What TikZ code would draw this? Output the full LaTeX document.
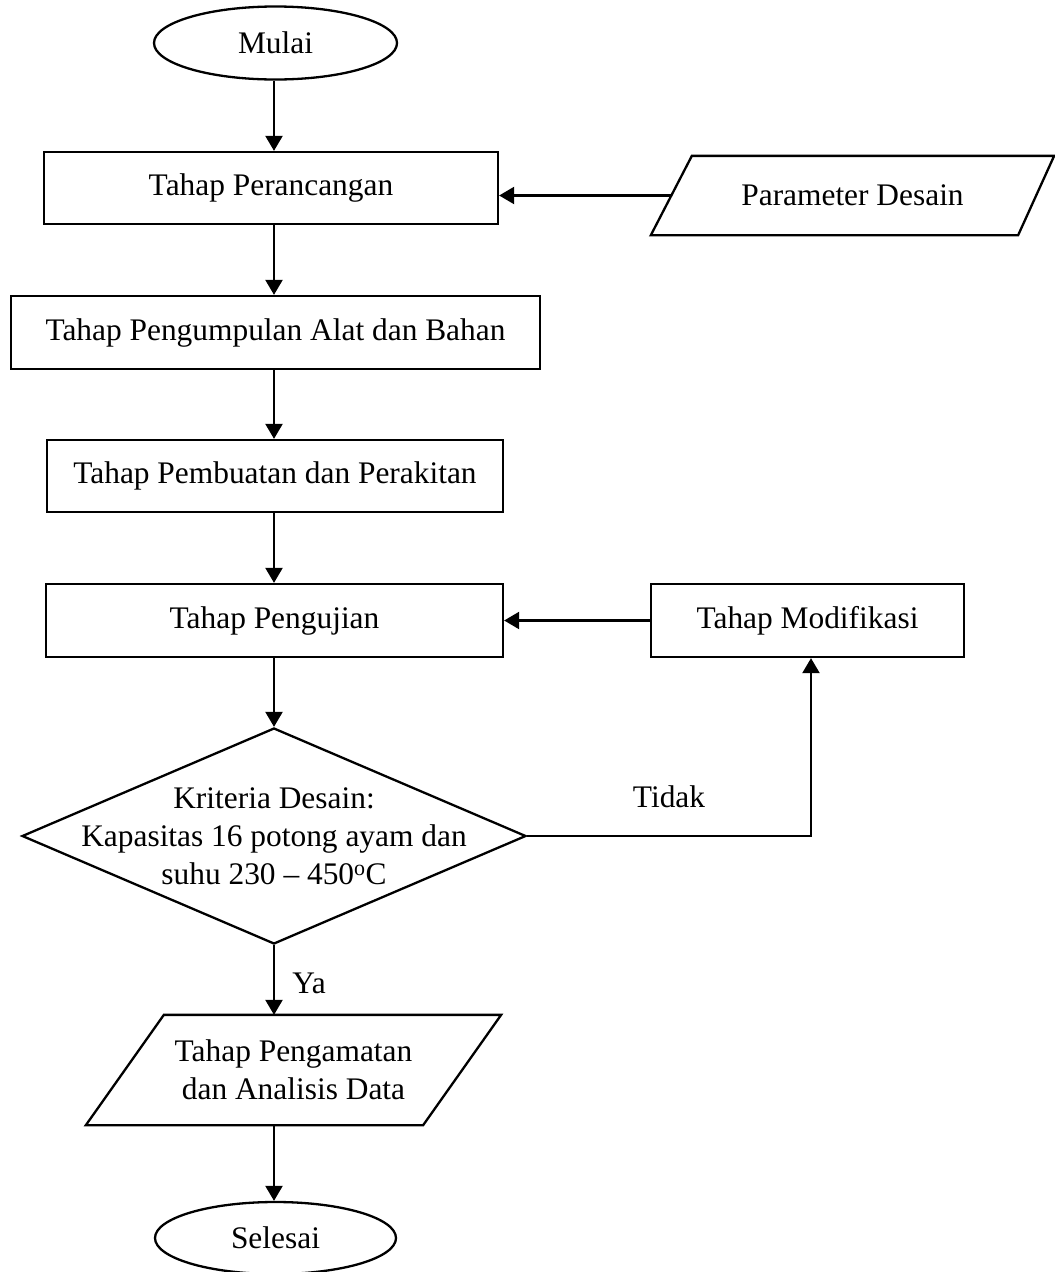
\documentclass[tikz,border=0pt]{standalone}
\usepackage{fontspec}
\setmainfont{Liberation Serif}
\usetikzlibrary{arrows.meta,shapes.geometric}
\begin{document}
\begin{tikzpicture}[x=1pt,y=-1pt,
  every node/.style={font=\fontsize{31.4}{38}\selectfont, inner sep=0pt, line width=2.3pt},
  proc/.style={draw, rectangle, minimum height=73pt},
  term/.style={draw, ellipse, minimum width=243pt, minimum height=73pt},
  io/.style={rectangle, align=center},
  decshape/.style={draw, diamond, minimum width=504pt, minimum height=216pt},
  lbl/.style={align=center},
  arr/.style={line width=2.3pt, -{Triangle[length=15pt,width=17pt]}},
  lin/.style={line width=2.3pt, line join=miter}]
\useasboundingbox (0,0) rectangle (1055,1272);
\coordinate (spine) at (274,0);
% nodes
\node[term] (mulai) at (275.5,43) {Mulai};
\node[proc, minimum width=454pt, minimum height=72pt] (rancang) at (271,188) {Tahap Perancangan};
\node[io, minimum width=401pt, minimum height=77pt] (param) at (852.5,195.5) {Parameter Desain};
\node[proc, minimum width=529pt] (kumpul) at (275.5,332.5) {Tahap Pengumpulan Alat dan Bahan};
\node[proc, minimum width=456pt, minimum height=72pt] (buat) at (275,476) {Tahap Pembuatan dan Perakitan};
\node[proc, minimum width=457pt] (uji) at (274.5,620.5) {Tahap Pengujian};
\node[proc, minimum width=313pt] (mod) at (807.5,620.5) {Tahap Modifikasi};
\node[decshape] (dec) at (274,836) {};
\node[lbl] (dectext) at (274,836) {Kriteria Desain:\\Kapasitas 16 potong ayam dan\\suhu 230 -- 450\textsuperscript{o}C};
\node[io, minimum width=413pt, minimum height=108pt] (amat) at (293.5,1070) {Tahap Pengamatan\\dan Analisis Data};
\node[term, minimum width=241pt, minimum height=72pt] (selesai) at (275.5,1238) {Selesai};
\node (tidak) at (669,797) {Tidak};
\node (ya) at (309,983) {Ya};
% parallelogram outlines
\draw[lin] ([xshift=41pt]param.north west) -- (param.north east) -- ([xshift=-36pt]param.south east) -- (param.south west) -- cycle;
\draw[lin] ([xshift=78pt]amat.north west) -- (amat.north east) -- ([xshift=-78pt]amat.south east) -- (amat.south west) -- cycle;
\coordinate (paramin) at ([xshift=20.5pt]param.west);
% connectors
\draw[arr] (mulai.south -| spine) -- (rancang.north -| spine);
\draw[arr] (paramin) -- (paramin -| rancang.east);
\draw[arr] (rancang.south -| spine) -- (kumpul.north -| spine);
\draw[arr] (kumpul.south -| spine) -- (buat.north -| spine);
\draw[arr] (buat.south -| spine) -- (uji.north -| spine);
\draw[arr] (mod.west) -- (mod.west -| uji.east);
\draw[arr] (uji.south -| spine) -- (dec.north);
\draw[arr] (dec.east) -| ([xshift=3.5pt]mod.south);
\draw[arr] (dec.south) -- (dec.south |- amat.north);
\draw[arr] (amat.south -| spine) -- (selesai.north -| spine);
\end{tikzpicture}
\end{document}
